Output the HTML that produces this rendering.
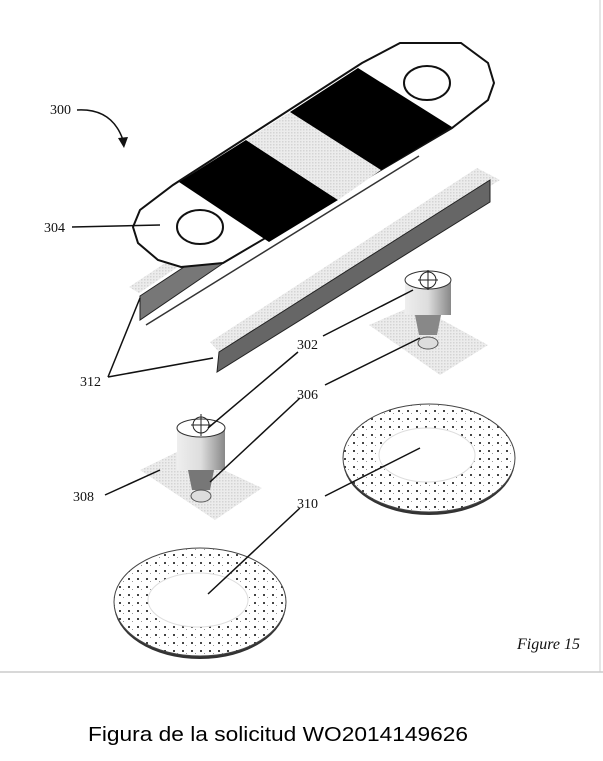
<!DOCTYPE html>
<html><head><meta charset="utf-8"><style>
html,body{margin:0;padding:0;background:#fff;}
svg{display:block}
</style></head><body>
<svg width="603" height="761" viewBox="0 0 603 761" xmlns="http://www.w3.org/2000/svg">
<defs>
<pattern id="chk" width="3" height="3" patternUnits="userSpaceOnUse"><rect width="3" height="3" fill="#ececec"/><rect width="1.5" height="1.5" fill="#d4d4d4"/></pattern>
<linearGradient id="cyl" x1="0" x2="1"><stop offset="0" stop-color="#eee"/><stop offset="0.5" stop-color="#ddd"/><stop offset="1" stop-color="#888"/></linearGradient>
<pattern id="dots" width="9" height="8" patternUnits="userSpaceOnUse"><rect width="9" height="8" fill="#fff"/><rect x="2" y="2" width="2" height="2" fill="#444"/><rect x="6" y="5" width="1" height="1" fill="#999"/></pattern>
</defs>
<line x1="600" y1="0" x2="600" y2="672" stroke="#ccc" stroke-width="1"/>
<line x1="0" y1="672" x2="603" y2="672" stroke="#ccc" stroke-width="1.5"/>

<!-- rail 1 -->
<polygon points="129,287 230,220 240,225 139,293" fill="url(#chk)"/>
<polygon points="140,296 225,240 225,262 140,320" fill="#777" stroke="#222"/>
<!-- strip -->
<polygon points="400,43 461,43 488,63 494,83 488,100 452,128 223,263 181,267 158,260 138,243 133,227 140,210 173,185 362,63" fill="#fff" stroke="#111" stroke-width="2"/>
<polygon points="179,182 246,140 338,200 269,242" fill="#000"/>
<polygon points="246,140 290,112 381,170 338,200" fill="url(#chk)"/>
<polygon points="290,112 358,68 452,127 381,170" fill="#000"/>
<ellipse cx="427" cy="83" rx="23" ry="17" fill="#fff" stroke="#111" stroke-width="2"/>
<ellipse cx="200" cy="227" rx="23" ry="17" fill="#fff" stroke="#111" stroke-width="2"/>
<line x1="146" y1="325" x2="419" y2="156" stroke="#333" stroke-width="1.5"/>
<!-- rail 2 -->
<polygon points="210,342 477,168 500,180 219,352" fill="url(#chk)"/>
<polygon points="219,352 490,180 490,202 217,372" fill="#666" stroke="#222"/>

<!-- pin 1 -->
<polygon points="369,325 415,305 488,345 440,375" fill="url(#chk)"/>
<rect x="405" y="280" width="46" height="35" fill="url(#cyl)"/>
<ellipse cx="428" cy="280" rx="23" ry="9" fill="#fff" stroke="#333"/>
<polygon points="415,315 441,315 437,335 419,335" fill="#888"/>
<ellipse cx="428" cy="343" rx="10" ry="6" fill="#ddd" stroke="#555"/>
<circle cx="428" cy="280" r="8" fill="none" stroke="#222"/><line x1="418" y1="280" x2="438" y2="280" stroke="#222"/><line x1="428" y1="270" x2="428" y2="290" stroke="#222"/>
<!-- pin 2 -->
<polygon points="140,470 181,450 262,488 215,520" fill="url(#chk)"/>
<rect x="177" y="428" width="48" height="42" fill="url(#cyl)"/>
<ellipse cx="201" cy="428" rx="24" ry="9" fill="#fff" stroke="#333"/>
<polygon points="188,470 214,470 210,490 192,490" fill="#777"/>
<ellipse cx="201" cy="496" rx="10" ry="6" fill="#ddd" stroke="#555"/>
<circle cx="201" cy="425" r="8" fill="none" stroke="#222"/><line x1="191" y1="425" x2="211" y2="425" stroke="#222"/><line x1="201" y1="414" x2="201" y2="436" stroke="#222"/>

<!-- rings -->
<ellipse cx="429" cy="460" rx="86" ry="55" fill="#333"/>
<ellipse cx="429" cy="458" rx="86" ry="54" fill="url(#dots)" stroke="#444"/>
<ellipse cx="427" cy="455" rx="48" ry="27" fill="#fff" stroke="#ddd"/>
<ellipse cx="200" cy="604" rx="86" ry="55" fill="#333"/>
<ellipse cx="200" cy="602" rx="86" ry="54" fill="url(#dots)" stroke="#444"/>
<ellipse cx="198" cy="600" rx="50" ry="27" fill="#fff" stroke="#ddd"/>

<!-- leaders -->
<g stroke="#111" stroke-width="1.5" fill="none">
<path d="M77,110 Q112,108 123,140"/>
<line x1="72" y1="227" x2="160" y2="225"/>
<line x1="108" y1="377" x2="140" y2="298"/>
<line x1="108" y1="377" x2="213" y2="358"/>
<line x1="323" y1="336" x2="413" y2="290"/>
<line x1="298" y1="352" x2="208" y2="428"/>
<line x1="325" y1="385" x2="420" y2="338"/>
<line x1="300" y1="398" x2="210" y2="482"/>
<line x1="105" y1="495" x2="160" y2="470"/>
<line x1="325" y1="496" x2="420" y2="448"/>
<line x1="300" y1="508" x2="208" y2="594"/>
</g>
<polygon points="118,138 128,137 124,148" fill="#111"/>

<g font-family="Liberation Serif, serif" font-size="14" fill="#111">
<text x="50" y="114">300</text>
<text x="44" y="232">304</text>
<text x="80" y="386">312</text>
<text x="297" y="349">302</text>
<text x="297" y="399">306</text>
<text x="73" y="501">308</text>
<text x="297" y="508">310</text>
<text x="517" y="649" font-style="italic" font-size="16">Figure 15</text>
</g>
<text x="88" y="741" font-family="Liberation Sans, sans-serif" font-size="20.5" fill="#000" textLength="380" lengthAdjust="spacingAndGlyphs">Figura de la solicitud WO2014149626</text>
</svg>
</body></html>
